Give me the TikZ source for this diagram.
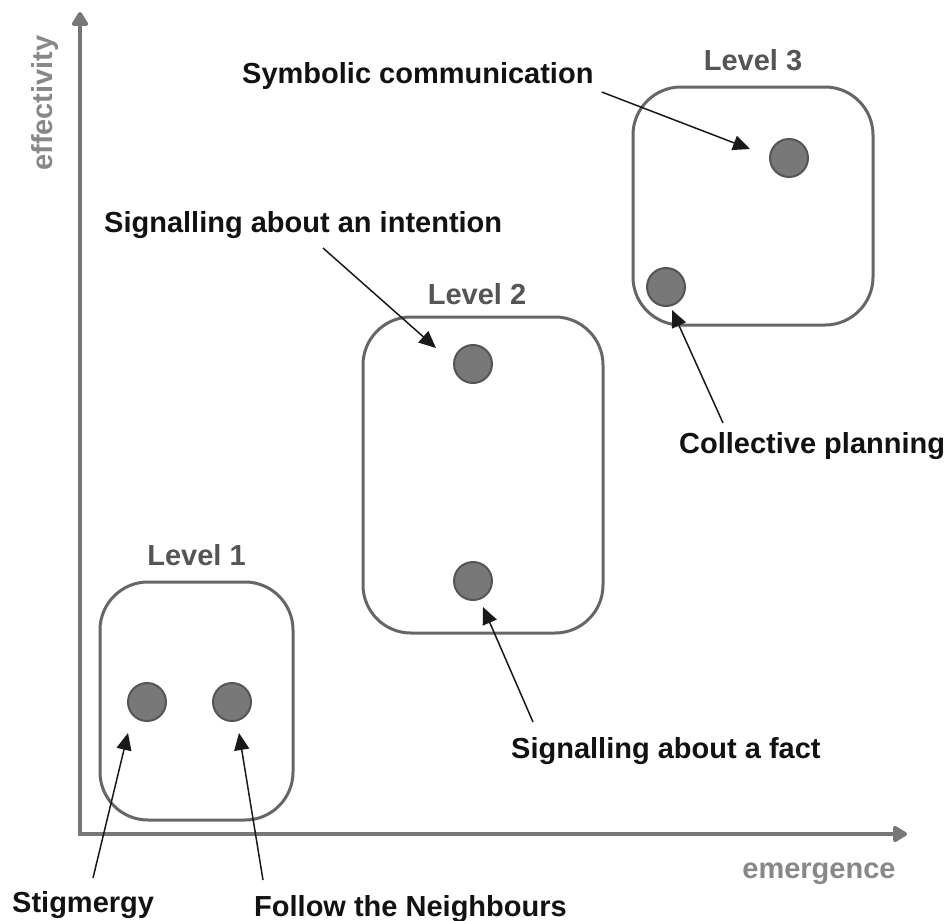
\documentclass[tikz,border=0pt]{standalone}
\usepackage{fontspec}
\setmainfont{Liberation Sans}
\usetikzlibrary{arrows.meta, positioning, calc}

\definecolor{axisgray}{HTML}{777777}
\definecolor{boxgray}{HTML}{666666}
\definecolor{dotfill}{HTML}{787878}
\definecolor{dotedge}{HTML}{555555}
\definecolor{lvlgray}{HTML}{555555}
\definecolor{axistext}{HTML}{888888}

\begin{document}
\begin{tikzpicture}[
		x=1pt, y=-1pt,
		level/.style={
			rectangle,
			draw=boxgray,
			line width=3pt,
			rounded corners=48pt,
			inner sep=0pt
		},
		dot/.style={
			circle,
			draw=dotedge,
			fill=dotfill,
			line width=2pt,
			minimum size=38pt,
			inner sep=0pt
		},
		note/.style={
			font=\bfseries\fontsize{29}{34}\selectfont,
			text=black!93,
			inner sep=0pt
		},
		lvl/.style={note, text=lvlgray},
		axislabel/.style={note, text=axistext},
		pointer/.style={
			-{Triangle[length=17pt, width=15pt]},
			line width=1.5pt,
			draw=black!90
		},
		axis/.style={
			{Triangle[length=16pt, width=18pt, round]}-{Triangle[length=16pt, width=18pt, round]},
			line width=4pt,
			draw=axisgray
		}
		]
		
		\useasboundingbox (0,0) rectangle (948,921);
		
		% Axes
		\coordinate (origin) at (80,834);
		\coordinate (ytop) at (80,12);
		\coordinate (xend) at (907,834);
		\draw [axis] (ytop) -- (origin) -- (xend);
		\node (effect) [axislabel, rotate=90, anchor=base] at (52,103) {effectivity};
		\node (emerge) [axislabel, anchor=base] at (819,878) {emergence};
		
		% Level boxes
		\node (box1) [level, minimum width=193pt, minimum height=238pt] at (196.5,701) {};
		\node (box2) [level, minimum width=240pt, minimum height=316pt] at (483,475) {};
		\node (box3) [level, minimum width=240pt, minimum height=238pt] at (753,206) {};
		\node (lvl1) [lvl, above=15pt of box1] {Level 1};
		\node (lvl2) [lvl, above=11pt of box2, xshift=-6pt] {Level 2};
		\node (lvl3) [lvl, above=14pt of box3] {Level 3};
		
		% Communication forms
		\node (dStig) [dot] at (147,702) {};
		\node (dFollow) [dot] at (232,702) {};
		\node (dIntent) [dot] at (473,364) {};
		\node (dFact) [dot] at (473,581) {};
		\node (dSym) [dot] at (789,158) {};
		\node (dPlan) [dot] at (666,287) {};
		
		% Labels
		\node (sym) [note, anchor=base west] at (242,83) {Symbolic communication};
		\node (intent) [note, anchor=base west] at (104,232) {Signalling about an intention};
		\node (plan) [note, anchor=base west] at (679,453) {Collective planning};
		\node (fact) [note, anchor=base west] at (511,758) {Signalling about a fact};
		\node (stig) [note, anchor=base west] at (12,912) {Stigmergy};
		\node (follow) [note, anchor=base west] at (254,916) {Follow the Neighbours};
		
		% Pointers from labels to dots
		\draw [pointer] ($(sym.base east)+(8,9)$) -- ($(dSym)+(-39,-9)$);
		\draw [pointer] ($(intent.base west)+(219,16)$) -- ($(dIntent)+(-37,-16)$);
		\draw [pointer] ($(plan.base west)+(44,-30)$) -- ($(dPlan)+(6,23)$);
		\draw [pointer] ($(fact.base west)+(22,-36)$) -- ($(dFact)+(10,26)$);
		\draw [pointer] ($(stig.base west)+(81,-34)$) -- ($(dStig)+(-19,31)$);
		\draw [pointer] ($(follow.base west)+(9,-36)$) -- ($(dFollow)+(7,31)$);
		
	\end{tikzpicture}
\end{document}
